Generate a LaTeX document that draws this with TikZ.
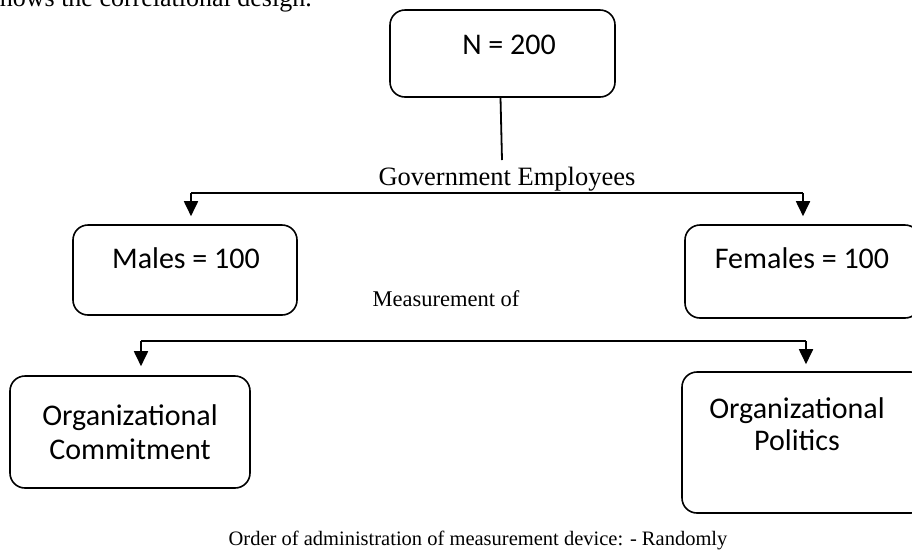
\documentclass[tikz,border=0pt]{standalone}
\usepackage{fontspec}
\setmainfont{Liberation Serif}
\newfontfamily\boxfont{Carlito}
\usepackage{xcolor}
\usepackage{tikz}
\usetikzlibrary{positioning,arrows.meta}

\tikzset{
  groupbox/.style={draw, line width=1.6pt, rounded corners=15pt, inner sep=0pt},
  boxtext/.style={font=\boxfont\fontsize{30}{34}\selectfont, align=center},
  plaintext/.style={inner sep=0pt},
  link/.style={line width=1.8pt},
  downarrow/.style={line width=1.8pt, -{Triangle[width=14pt,length=15pt]}}
}

\begin{document}
\begin{tikzpicture}[x=1pt, y=-1pt]
\useasboundingbox (0,0) rectangle (912,558);

\node[plaintext, font=\fontsize{26}{30}\selectfont, anchor=base east] (intro) at (312,6) {shows the correlational design.};

% sample
\node[groupbox, minimum width=225pt, minimum height=87pt] (total) at (502.5,53.5) {};
\node[boxtext] (totaltext) at (509,45) {N = 200};

\node[plaintext, font=\fontsize{26.5}{30}\selectfont] (govt) at (507,179) {Government Employees};
\coordinate (stemend) at (502,160);
\draw[link] ([xshift=-2pt]total.south) -- (stemend);

% groups
\node[groupbox, minimum width=224pt, minimum height=90pt] (males) at (185,270) {};
\node[boxtext] (malestext) at (186,258) {Males = 100};
\node[groupbox, minimum width=235pt, minimum height=93pt] (females) at (802.5,271.5) {};
\node[boxtext] (femalestext) at (802,258) {Females = 100};

\coordinate (splitL) at (191,193);
\coordinate (splitR) at (803,193);
\draw[link] (splitL) -- (splitR);
\draw[downarrow, shorten >=8pt] (splitL) -- (splitL |- males.north);
\draw[downarrow, shorten >=8pt] (splitR) -- (splitR |- females.north);

\node[plaintext, font=\fontsize{22.5}{26}\selectfont] (measure) at (446,299) {Measurement of};

% measures
\node[groupbox, minimum width=240pt, minimum height=112pt] (commit) at (130,432) {};
\node[boxtext] (committext) at (130,432) {Organizational\\Commitment};
\node[groupbox, minimum width=244pt, minimum height=141pt] (politics) at (804,442.5) {};
\node[boxtext] (politicstext) at (797,424) {Organizational\\[-2pt]Politics};

\coordinate (measL) at (141,341);
\coordinate (measR) at (806,341);
\draw[link] (measL) -- (measR);
\draw[downarrow, shorten >=9pt] (measL) -- (measL |- commit.north);
\draw[downarrow, shorten >=7pt] (measR) -- (measR |- politics.north);

\node[plaintext, font=\fontsize{20.5}{24}\selectfont] (order) at (478,540) {Order of administration of measurement device: - Randomly};

\end{tikzpicture}
\end{document}
